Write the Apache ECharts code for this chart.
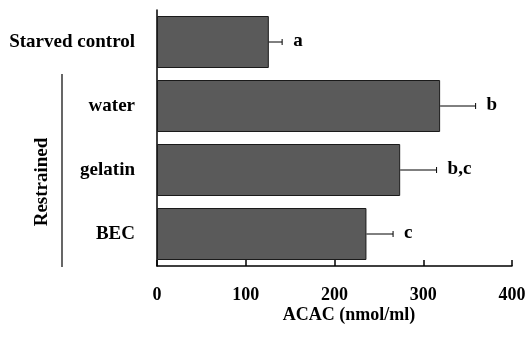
<!DOCTYPE html>
<html>
<head>
<meta charset="utf-8">
<script src="https://cdn.jsdelivr.net/npm/echarts@6/dist/echarts.min.js"></script>
<style>html,body{margin:0;padding:0;background:#fff;}#c{width:531px;height:338px;}</style>
</head>
<body>
<div id="c"></div>
<script>
var categories = ['Starved control', 'water', 'gelatin', 'BEC'];
var values = [126, 319, 274, 236];
var errors = [15, 40, 41, 30];
var letters = ['a', 'b', 'b,c', 'c'];
var xTicks = [0, 100, 200, 300, 400];

var FONT = '"Liberation Serif", "Times New Roman", serif';
var chart = echarts.init(document.getElementById('c'), null, {renderer: 'canvas'});

var errData = categories.map(function (c, i) { return [values[i], i, errors[i], letters[i]]; });

chart.setOption({
  animation: false,
  backgroundColor: '#fff',
  grid: {left: 157, right: 19, top: 10, bottom: 72},
  xAxis: {
    type: 'value', min: xTicks[0], max: xTicks[xTicks.length - 1], interval: 100,
    axisLine: {show: true, lineStyle: {color: '#000', width: 1.5}},
    axisTick: {show: true, inside: true, length: 6, lineStyle: {color: '#000', width: 1.5}},
    splitLine: {show: false},
    axisLabel: {color: '#000', fontFamily: FONT, fontWeight: 'bold', fontSize: 18, margin: 20}
  },
  yAxis: {
    type: 'category', data: categories, inverse: true,
    axisLine: {show: true, lineStyle: {color: '#000', width: 1.5}},
    axisTick: {show: false},
    axisLabel: {color: '#000', fontFamily: FONT, fontWeight: 'bold', fontSize: 19, margin: 22}
  },
  series: [
    {
      type: 'bar', data: values, barWidth: 52,
      itemStyle: {color: '#5a5a5a', borderColor: '#1a1a1a', borderWidth: 1}
    },
    {
      type: 'custom', data: errData,
      encode: {x: 0, y: 1},
      renderItem: function (params, api) {
        var v = api.value(0), idx = api.value(1), e = api.value(2);
        var p0 = api.coord([v, idx]);
        var p1 = api.coord([v + e, idx]);
        var letter = letters[params.dataIndex];
        return {
          type: 'group',
          children: [
            {type: 'line', shape: {x1: p0[0], y1: p0[1], x2: p1[0], y2: p1[1]}, style: {stroke: '#000', lineWidth: 1}},
            {type: 'line', shape: {x1: p1[0], y1: p1[1] - 3, x2: p1[0], y2: p1[1] + 3}, style: {stroke: '#000', lineWidth: 1}},
            {type: 'text', x: p1[0] + 11, y: p1[1] - 1, style: {text: letter, fill: '#000', font: 'bold 19px ' + FONT, textVerticalAlign: 'middle', textAlign: 'left'}}
          ]
        };
      },
      z: 5
    }
  ],
  graphic: [
    {type: 'line', shape: {x1: 62, y1: 74, x2: 62, y2: 267}, style: {stroke: '#000', lineWidth: 1.2}},
    {type: 'text', x: 42, y: 182, rotation: Math.PI / 2, style: {text: 'Restrained', fill: '#000', font: 'bold 19px ' + FONT, textAlign: 'center', textVerticalAlign: 'middle'}},
    {type: 'text', x: 349, y: 315, style: {text: 'ACAC (nmol/ml)', fill: '#000', font: 'bold 18px ' + FONT, textAlign: 'center', textVerticalAlign: 'middle'}}
  ]
});
</script>
</body>
</html>
